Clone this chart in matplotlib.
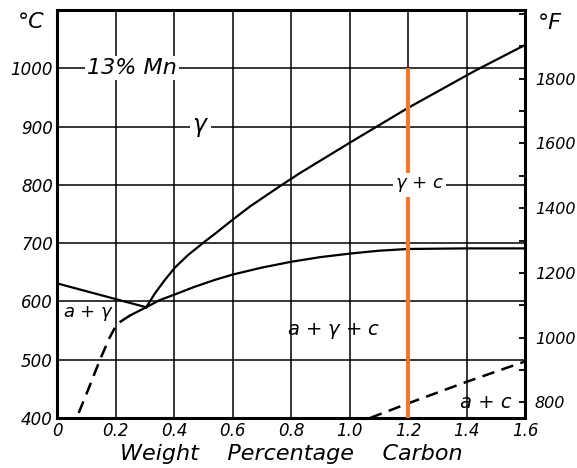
import numpy as np
import matplotlib
matplotlib.use('Agg')
import matplotlib.pyplot as plt

# ---- data ----------------------------------------------------------
# upper boundary gamma / gamma + C
acm_c = [0.305, 0.335, 0.369, 0.403, 0.449, 0.506, 0.54, 0.60, 0.66, 0.76,
         0.83, 1.00, 1.20, 1.43, 1.60]
acm_t = [590, 614, 637, 658, 680, 703, 716, 740, 763, 797,
         820, 872, 932, 996, 1040]

# gamma + C / alpha + gamma + C
a1u_c = [0.305, 0.35, 0.403, 0.47, 0.54, 0.60, 0.70, 0.80, 0.90, 1.00,
         1.10, 1.20, 1.40, 1.60]
a1u_t = [590, 602, 612, 625, 637, 646, 658, 668, 676, 682,
         687, 690, 691, 691]

# gamma / alpha + gamma
a3_c = [0.0, 0.305]
a3_t = [631, 590]

# alpha + gamma lower boundary (solid part, then dashed)
ag_solid_c = [0.305, 0.25]
ag_solid_t = [590, 576]
ag_dash_c = [0.25, 0.21, 0.198, 0.18, 0.147, 0.106, 0.067]
ag_dash_t = [576, 563, 555, 538, 500, 448, 400]

# alpha + C boundary (dashed)
a1l_c = [1.07, 1.20, 1.40, 1.60]
a1l_t = [400, 425, 462, 497]

MARK_C = 1.2
MARK_TOP = 1000

x_ticks = [0, 0.2, 0.4, 0.6, 0.8, 1.0, 1.2, 1.4, 1.6]
x_labels = ['0', '0.2', '0.4', '0.6', '0.8', '1.0', '1.2', '1.4', '1.6']
c_ticks = [400, 500, 600, 700, 800, 900, 1000]
f_major = [800, 1000, 1200, 1400, 1600, 1800]
f_minor = [900, 1100, 1300, 1500, 1700, 1900, 2000]

FONT = {'family': 'DejaVu Sans', 'style': 'italic'}

fig = plt.figure(figsize=(5.77, 4.68), dpi=100)
ax = fig.add_axes([57 / 577, 1 - 418 / 468, 468 / 577, 408 / 468])

ax.set_xlim(0, 1.6)
ax.set_ylim(400, 1100)

# grid
for xv in x_ticks[1:-1]:
    ax.axvline(xv, color='black', lw=1.1, zorder=1)
for yv in c_ticks[1:]:
    ax.axhline(yv, color='black', lw=1.1, zorder=1)

for s in ax.spines.values():
    s.set_linewidth(2.2)

ax.set_xticks(x_ticks)
ax.set_xticklabels(x_labels, fontsize=12, **FONT)
ax.set_yticks(c_ticks)
ax.set_yticklabels([str(t) for t in c_ticks], fontsize=12, **FONT)
ax.tick_params(length=0, pad=3)

# phase boundaries
line_kw = dict(color='black', lw=1.6, zorder=3, solid_joinstyle='round')
ax.plot(acm_c, acm_t, **line_kw)
ax.plot(a1u_c, a1u_t, **line_kw)
ax.plot(a3_c, a3_t, **line_kw)
ax.plot(ag_solid_c, ag_solid_t, **line_kw)
ax.plot(ag_dash_c, ag_dash_t, color='black', lw=1.8, ls=(0, (5, 3)), zorder=3)
ax.plot(a1l_c, a1l_t, color='black', lw=1.8, ls=(0, (5, 3)), zorder=3)

# orange marker line
ax.plot([MARK_C, MARK_C], [400, MARK_TOP], color='#F07A2A', lw=3, zorder=4,
        solid_capstyle='butt')

# region labels
box = dict(facecolor='white', edgecolor='none', pad=1.5)
ax.text(0.255, 1000, '13% Mn', fontsize=16, ha='center', va='center',
        bbox=box, zorder=5, **FONT)
ax.text(0.49, 900, r'$\gamma$', fontsize=17, ha='center', va='center',
        bbox=box, zorder=5)
ax.text(1.24, 800, r'$\gamma$ + c', fontsize=13, ha='center', va='center',
        bbox=box, zorder=5, **FONT)
ax.text(0.108, 580, r'a + $\gamma$', fontsize=13, ha='center', va='center',
        zorder=5, **FONT)
ax.text(0.945, 549, r'a + $\gamma$ + c', fontsize=14, ha='center', va='center',
        zorder=5, **FONT)
ax.text(1.465, 427, 'a + c', fontsize=14, ha='center', va='center',
        zorder=5, **FONT)

ax.set_xlabel('Weight    Percentage    Carbon', fontsize=16, labelpad=3, **FONT)

fig.text(31 / 577, 1 - 22 / 468, '°C', fontsize=16, ha='center', va='center', **FONT)
fig.text(550 / 577, 1 - 23 / 468, '°F', fontsize=16, ha='center', va='center', **FONT)

# Fahrenheit axis
ax2 = ax.twinx()
ax2.set_ylim(400 * 9 / 5 + 32, 1100 * 9 / 5 + 32)
ax2.set_yticks(f_major)
ax2.set_yticklabels([str(t) for t in f_major], fontsize=11.5, **FONT)
ax2.set_yticks(f_minor, minor=True)
ax2.tick_params(axis='y', which='both', direction='in', length=4, width=1.3, pad=7)
for s in ax2.spines.values():
    s.set_visible(False)

fig.savefig('out.png', dpi=100)
